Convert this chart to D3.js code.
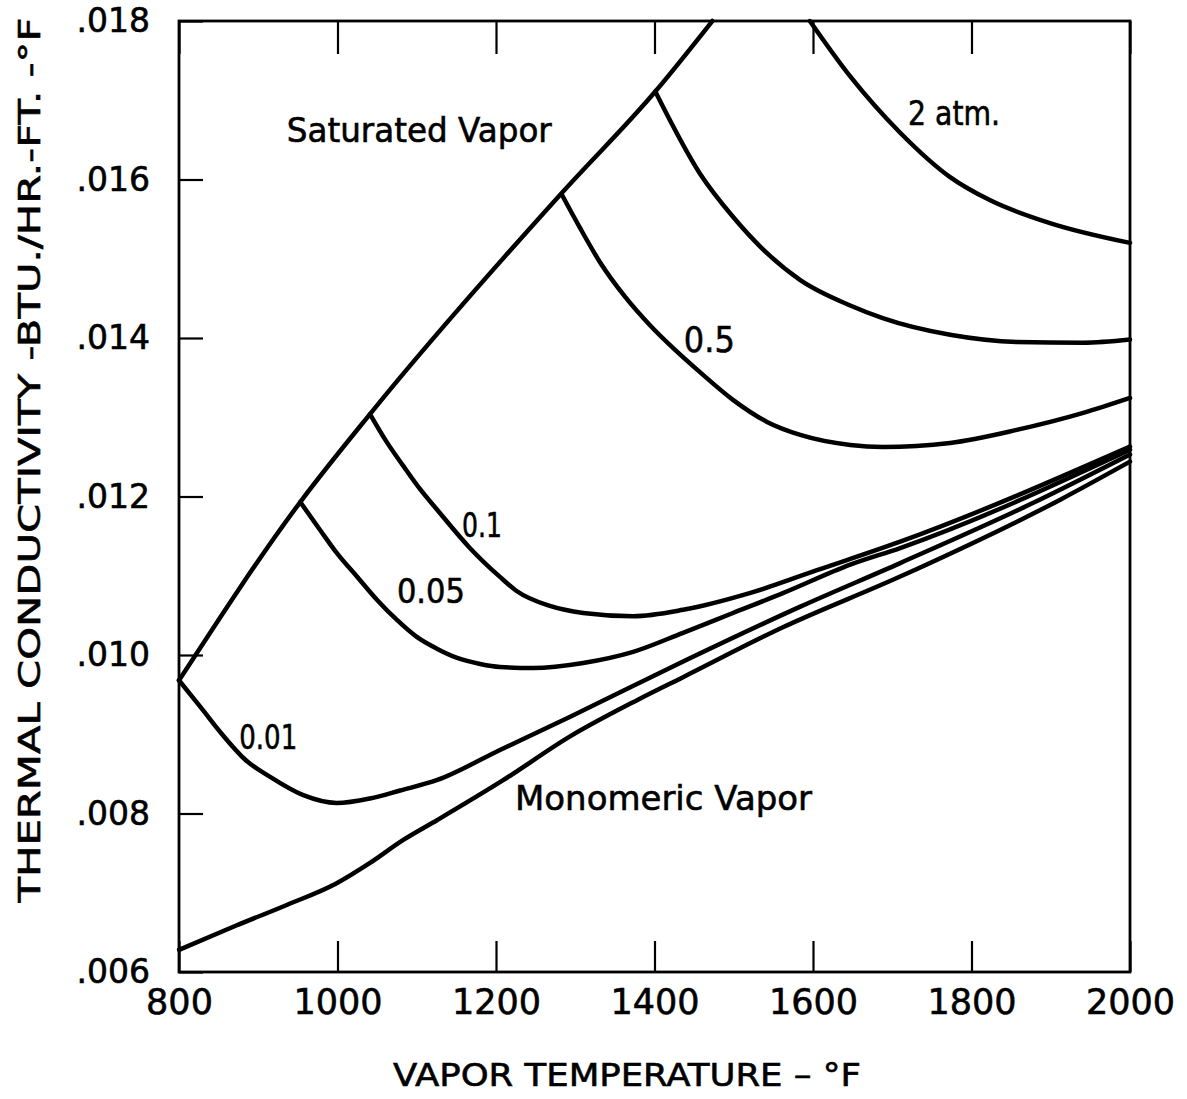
<!DOCTYPE html>
<html>
<head>
<meta charset="utf-8">
<script src="https://cdn.jsdelivr.net/npm/d3@7"></script>
<style>
  html, body { margin: 0; padding: 0; background: #fff; }
  svg { display: block; }
  text { font-family: "DejaVu Sans", sans-serif; fill: #000; stroke: #000; stroke-width: 0.6px; }
</style>
</head>
<body>
<svg id="chart" width="1187" height="1099"></svg>
<script>
// ---------------- DATA ----------------
const xTicks = [800, 1000, 1200, 1400, 1600, 1800, 2000];
const yTicks = [0.006, 0.008, 0.010, 0.012, 0.014, 0.016, 0.018];

// Saturated vapor envelope (temperature °F, conductivity)
const satT = [800, 953, 1041, 1283, 1401, 1473];
const satK = [0.00968, 0.01193, 0.01304, 0.01583, 0.01711, 0.0180];

// Isobars
const p001T = [800, 828, 853, 884, 915, 956, 999, 1041, 1079, 1126, 1205, 1293, 1420, 1584, 1710, 1878, 2000];
const p001K = [0.00968, 0.009332, 0.009016, 0.008675, 0.008461, 0.008234, 0.008133, 0.00819, 0.00829, 0.008423, 0.008802, 0.009218, 0.00984, 0.01061, 0.01116, 0.01192, 0.01253];

const p005T = [953, 978, 999, 1025, 1050, 1075, 1100, 1126, 1151, 1180, 1205, 1247, 1310, 1373, 1436, 1499, 1562, 1647, 1710, 2000];
const p005K = [0.01193, 0.011578, 0.011288, 0.010985, 0.010695, 0.010442, 0.010228, 0.010076, 0.009963, 0.009887, 0.009849, 0.009836, 0.00990, 0.01004, 0.01028, 0.01053, 0.01078, 0.01114, 0.01135, 0.01259];

const p01T = [1041, 1062, 1083, 1104, 1126, 1167, 1205, 1226, 1268, 1310, 1373, 1436, 1520, 1605, 1710, 2000];
const p01K = [0.01304, 0.012689, 0.012386, 0.012095, 0.01183, 0.011351, 0.010985, 0.010808, 0.010619, 0.010531, 0.01049, 0.01057, 0.01078, 0.01107, 0.01143, 0.01263];

const p05T = [1283, 1306, 1331, 1363, 1394, 1426, 1457, 1499, 1542, 1584, 1647, 1688, 1773, 1857, 1941, 2000];
const p05K = [0.01581, 0.015389, 0.01496, 0.014519, 0.014165, 0.01385, 0.013572, 0.013219, 0.012941, 0.012777, 0.012651, 0.012626, 0.012676, 0.01284, 0.013055, 0.013244];

const p1T = [1401, 1457, 1499, 1542, 1584, 1647, 1688, 1773, 1857, 1941, 2000];
const p1K = [0.01711, 0.01608, 0.01553, 0.01507, 0.01473, 0.01441, 0.01425, 0.01404, 0.01395, 0.01394, 0.01398];

const p2T = [1596, 1647, 1710, 1773, 1823, 1899, 2000];
const p2K = [0.0180, 0.01730, 0.01659, 0.01603, 0.01574, 0.01545, 0.01520];

// Monomeric vapor
const monoT = [800, 873, 936, 999, 1041, 1083, 1126, 1209, 1293, 1378, 1436, 1562, 1710, 1912, 2000];
const monoK = [0.00628, 0.00659, 0.006846, 0.00712, 0.007376, 0.007666, 0.007918, 0.00842, 0.00897, 0.00943, 0.00972, 0.01035, 0.01099, 0.01196, 0.01244];

// Annotations (text, anchor temperature, anchor conductivity)
const labelText = ["Saturated Vapor", "2 atm.", "0.5", "0.1", "0.05", "0.01", "Monomeric Vapor"];
const labelT = [936, 1720, 1437, 1157, 1075, 876, 1224];
const labelK = [0.016475, 0.016689, 0.013824, 0.01149, 0.010657, 0.00881, 0.008044];

// ---------------- DRAWING ----------------
const svg = d3.select("#chart");
const mLeft = 179, mRight = 1130, mTop = 21, mBottom = 972;

const x = d3.scaleLinear().domain([800, 2000]).range([mLeft, mRight]);
const y = d3.scaleLinear().domain([0.006, 0.018]).range([mBottom, mTop]);

const zip = (a, b) => a.map((v, i) => [v, b[i]]);
const series = [
  zip(satT, satK), zip(p001T, p001K), zip(p005T, p005K), zip(p01T, p01K),
  zip(p05T, p05K), zip(p1T, p1K), zip(p2T, p2K), zip(monoT, monoK)
];

const line = d3.line().x(d => x(d[0])).y(d => y(d[1])).curve(d3.curveMonotoneX);

const fmtY = d => d3.format(".3f")(d).replace(/^0/, "");

// bottom axis (ticks inward)
const gB = svg.append("g").attr("transform", `translate(0,${mBottom})`)
  .call(d3.axisBottom(x).tickValues(xTicks).tickSizeInner(-31).tickSizeOuter(0).tickPadding(17).tickFormat(d3.format("d")));
gB.selectAll("text").style("font-size", "35px");

// top axis ticks only
const gT = svg.append("g").attr("transform", `translate(0,${mTop})`)
  .call(d3.axisTop(x).tickValues(xTicks).tickSizeInner(-33).tickSizeOuter(0).tickFormat(""));

// left axis
const gL = svg.append("g").attr("transform", `translate(${mLeft},0)`)
  .call(d3.axisLeft(y).tickValues(yTicks).tickSizeInner(-24).tickSizeOuter(0).tickPadding(29).tickFormat(fmtY));
gL.selectAll("text").style("font-size", "33px");

[gB, gT, gL].forEach(g => {
  g.attr("font-family", null).attr("font-size", null);
  g.select(".domain").remove();
  g.selectAll(".tick line").attr("stroke", "#000").attr("stroke-width", 2.2);
});

// frame
svg.append("rect")
  .attr("x", mLeft).attr("y", mTop)
  .attr("width", mRight - mLeft).attr("height", mBottom - mTop)
  .attr("fill", "none").attr("stroke", "#000").attr("stroke-width", 2.8);

// curves
svg.append("g").selectAll("path").data(series).join("path")
  .attr("d", line)
  .attr("fill", "none")
  .attr("stroke", "#000")
  .attr("stroke-width", 4.5)
  .attr("stroke-linejoin", "round")
  .attr("stroke-linecap", "round");

// annotations
const labelFont = [33, 34, 36, 34, 34, 34, 34];
const labelLen = [265, 92, 51, 40, 68, 58, 297];
svg.append("g").selectAll("text").data(labelText).join("text")
  .attr("x", (d, i) => x(labelT[i]))
  .attr("y", (d, i) => y(labelK[i]))
  .style("font-size", (d, i) => labelFont[i] + "px")
  .attr("textLength", (d, i) => labelLen[i])
  .attr("lengthAdjust", "spacingAndGlyphs")
  .text(d => d);

// axis titles
svg.append("text")
  .attr("x", 627).attr("y", 1086)
  .attr("text-anchor", "middle")
  .style("font-size", "32px")
  .attr("textLength", 468).attr("lengthAdjust", "spacingAndGlyphs")
  .text("VAPOR  TEMPERATURE – °F");

svg.append("text")
  .attr("transform", "translate(40,460) rotate(-90)")
  .attr("text-anchor", "middle")
  .style("font-size", "30px")
  .attr("textLength", 885).attr("lengthAdjust", "spacingAndGlyphs")
  .text("THERMAL  CONDUCTIVITY -BTU./HR.-FT. -°F");
</script>
</body>
</html>
